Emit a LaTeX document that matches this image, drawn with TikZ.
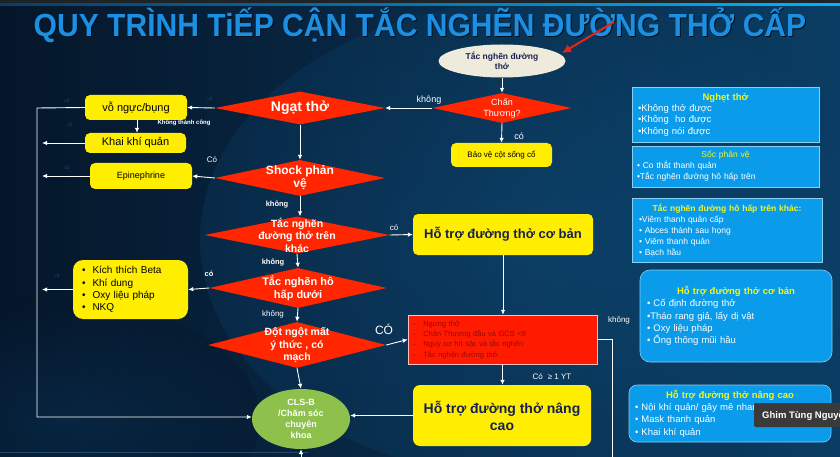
\documentclass[tikz,border=0pt]{standalone}
\usepackage{fontspec}
\setmainfont{Liberation Sans}
\usetikzlibrary{arrows.meta,shapes.geometric,calc}

\definecolor{bgdeep}{HTML}{05162A}
\definecolor{bgmid}{HTML}{0B3D64}
\definecolor{bglight}{HTML}{135C90}
\definecolor{topbar}{HTML}{1E2327}
\definecolor{titleblue}{HTML}{1C8FE3}
\definecolor{titleshade}{HTML}{03101C}
\definecolor{boxyellow}{HTML}{FFEE00}
\definecolor{darknavy}{HTML}{17214F}
\definecolor{flowred}{HTML}{FF2600}
\definecolor{boxred}{HTML}{FF1A00}
\definecolor{redtext}{HTML}{9A0A05}
\definecolor{cream}{HTML}{EFEBDC}
\definecolor{leafgreen}{HTML}{8DC14B}
\definecolor{panelblue}{HTML}{0A9BEB}
\definecolor{panelline}{HTML}{86CFF5}
\definecolor{paneltitle}{HTML}{F5F51E}
\definecolor{arrowred}{HTML}{E8241A}
\definecolor{tipgray}{HTML}{3A3A3A}
\definecolor{faint}{HTML}{23486C}

\newcommand{\titletext}{\scalebox{0.94}[1]{QUY TRÌNH TiẾP CẬN TẮC NGHẼN ĐƯỜNG THỞ CẤP}}

\begin{document}
\begin{tikzpicture}[x=1pt,y=-1pt,
  arr/.style={draw=white, line width=0.9pt, -{Latex[length=5pt,width=4.5pt]}},
  link/.style={draw=white, line width=0.9pt},
  ybox/.style={fill=boxyellow, rounded corners=5pt, inner sep=0pt, align=center, text=black},
  dia/.style={diamond, fill=flowred, draw=none, inner sep=0pt},
  dtext/.style={text=white, font=\bfseries, align=center},
  lab/.style={text=white, font=\fontsize{8}{9}\selectfont, inner sep=0pt},
  labb/.style={text=white, font=\bfseries\fontsize{7.5}{9}\selectfont, inner sep=0pt},
  ghost/.style={text=faint, font=\fontsize{5}{6}\selectfont, inner sep=0pt},
  panel/.style={fill=panelblue, draw=panelline, line width=0.6pt, inner sep=0pt, align=left, text=white},
  titlefont/.style={font=\bfseries\fontsize{32}{33}\selectfont, inner sep=0pt}
]
\useasboundingbox (0,0) rectangle (840,457);

% background
\shade[left color=bgdeep, right color=bgmid] (0,0) rectangle (840,457);
\begin{scope}
  \clip (0,0) rectangle (840,457);
  \shade[inner color=bglight, outer color=bgmid, opacity=0.35] (540,240) ellipse (340pt and 240pt);
  \shade[inner color=bgmid, outer color=bgdeep, opacity=0.35] (60,420) ellipse (200pt and 120pt);
\end{scope}
\fill[topbar] (0,0) rectangle (840,4);
\shade[left color=bgmid, right color=cyan!70!blue] (0,4) rectangle (840,6);
\draw[faint, line width=0.6pt] (0,452) -- (308,452);

% title with a dark halo
\node[titlefont, text=titleshade] (titleshadow) at (421,26.5) {\titletext};
\node[titlefont, text=titleblue] (title) at (420,25) {\titletext};

% flow nodes
\node[ellipse, fill=cream, inner sep=0pt, minimum width=127pt, minimum height=33pt,
  label={[text=darknavy, font=\bfseries\fontsize{8.5}{10}\selectfont, align=center]center:Tắc nghẽn đường\\thở}]
  (start) at (502,61) {};
\node[dia, minimum width=139pt, minimum height=30pt,
  label={[text=white, font=\fontsize{9}{11}\selectfont, align=center]center:Chấn\\Thương?}]
  (chan) at (502,108) {};
\node[ybox, minimum width=101pt, minimum height=24pt, font=\fontsize{8}{9}\selectfont]
  (spine) at (501.5,155) {Bảo vệ cột sống cổ};

\node[dia, minimum width=170pt, minimum height=33pt,
  label={[dtext, font=\bfseries\fontsize{14}{15}\selectfont]center:Ngạt thở}]
  (ngat) at (300,108) {};
\node[ybox, minimum width=102pt, minimum height=25pt, font=\fontsize{11}{12}\selectfont]
  (vo) at (136,107.5) {vỗ ngực/bụng};
\node[ybox, minimum width=101pt, minimum height=20pt, font=\fontsize{11}{12}\selectfont]
  (khai) at (135.5,143) {Khai khí quản};
\node[ybox, minimum width=102pt, minimum height=26pt, font=\fontsize{9}{10}\selectfont]
  (epi) at (141,176) {Epinephrine};
\node[dia, minimum width=170pt, minimum height=36pt,
  label={[dtext, font=\bfseries\fontsize{12}{13}\selectfont]center:Shock phản\\vệ}]
  (shock) at (300,178) {};
\node[dia, minimum width=185pt, minimum height=37pt,
  label={[dtext, font=\bfseries\fontsize{10.5}{12.5}\selectfont]center:Tắc nghẽn\\đường thở trên\\khác}]
  (upper) at (297,235) {};
\node[ybox, minimum width=180pt, minimum height=41pt, text=darknavy, font=\bfseries\fontsize{13}{14}\selectfont]
  (basic) at (503,234.5) {Hỗ trợ đường thở cơ bản};
\node[dia, minimum width=177pt, minimum height=40pt,
  label={[dtext, font=\bfseries\fontsize{11}{13}\selectfont]center:Tắc nghẽn hô\\hấp dưới}]
  (lower) at (298,288) {};
\node[ybox, rounded corners=10pt, minimum width=115pt, minimum height=59pt, align=left,
  font=\fontsize{10}{12.3}\selectfont, text width=97pt]
  (beta) at (130.5,289.5) {\textbullet\hspace{7pt}Kích thích Beta\\\textbullet\hspace{7pt}Khí dung\\\textbullet\hspace{7pt}Oxy liệu pháp\\\textbullet\hspace{7pt}NKQ};
\node[dia, minimum width=178pt, minimum height=46pt,
  label={[dtext, font=\bfseries\fontsize{10.5}{12.3}\selectfont]center:Đột ngột mất\\ý thức , có\\mạch}]
  (sudden) at (297,345) {};
\node[fill=boxred, draw=red!25, line width=0.5pt, minimum width=189pt, minimum height=49pt,
  inner sep=0pt, align=left, text width=178pt, text=redtext, font=\fontsize{7.5}{10.3}\selectfont]
  (risk) at (502.5,339.5) {{\tiny\textbullet}\hspace{8pt}Ngưng thở\\{\tiny\textbullet}\hspace{8pt}Chấn Thương đầu và GCS <9\\{\tiny\textbullet}\hspace{8pt}Nguy cơ hít sặc và tắc nghẽn\\{\tiny\textbullet}\hspace{8pt}Tắc nghẽn đường thở};
\node[ybox, rounded corners=7pt, minimum width=178pt, minimum height=61pt, text=darknavy,
  font=\bfseries\fontsize{14}{17}\selectfont]
  (adv) at (502,415.5) {Hỗ trợ đường thở nâng\\cao};
\node[ellipse, fill=leafgreen, inner sep=0pt, minimum width=98pt, minimum height=60pt,
  label={[text=white, font=\bfseries\fontsize{9}{11}\selectfont, align=center]center:CLS-B\\/Chăm sóc\\chuyên\\khoa}]
  (cls) at (301,419) {};

% free ends of connectors
\coordinate (lx) at (42,0);
\coordinate (lt) at (37,108);
\coordinate (lb) at (37,417);
\coordinate (rk) at (612,339.5);
\coordinate (rb) at (612,457);
\coordinate (cb) at (301,457);
\coordinate (ra) at (614,22);
\coordinate (rt) at (562,53);

% connectors
\draw[arr] (start) -- (chan);
\draw[arr] (chan.west) -- (ngat.east);
\draw[arr] (chan.south) -- (spine.north);
\draw[arr] (ngat.west) -- (vo.east);
\draw[arr] (vo.south -| 137,0) -- (khai.north -| 137,0);
\draw[arr] (vo.west) -- (lt) -- (lb) -- (cls.west |- lb);
\draw[arr] (khai.west) -- (khai.west -| lx);
\draw[arr] (ngat.south) -- (shock.north);
\draw[arr] (shock.west) -- (epi.east);
\draw[arr] (epi.west) -- (epi.west -| lx);
\draw[arr] (shock.south) -- (upper.north -| shock.south);
\draw[arr] (upper.east) -- (basic.west);
\draw[arr] (upper.south) -- (lower.north);
\draw[arr] (lower.west) -- (beta.east);
\draw[arr] (beta.west) -- (beta.west -| lx);
\draw[arr] (lower.south) -- (sudden.north);
\draw[arr] (sudden.east) -- (risk.west);
\draw[arr] (basic.south) -- (risk.north -| basic.south);
\draw[arr] (risk.south) -- (adv.north -| risk.south);
\draw[link] (risk.east) -- (rk) -- (rb);
\draw[arr] (adv.west) -- (adv.west -| cls.east);
\draw[arr] (sudden.south) -- (cls.north);
\draw[arr] (cb) -- (cls.south);
\draw[draw=arrowred, line width=2pt, -{Latex[length=9pt,width=9pt]}] (ra) -- (rt);

% connector labels
\node[lab, font=\fontsize{9}{10}\selectfont] (l1) at (429,100) {không};
\node[lab, font=\fontsize{9}{10}\selectfont] (l2) at (519,136) {có};
\node[labb, font=\bfseries\fontsize{6}{7}\selectfont] (l3) at (184,123) {Không thành công};
\node[lab] (l4) at (212,160) {Có};
\node[labb] (l5) at (277,204) {không};
\node[lab] (l6) at (394,228) {có};
\node[labb] (l7) at (273,262) {không};
\node[labb] (l8) at (209,274) {có};
\node[lab] (l9) at (273,314) {không};
\node[lab, font=\fontsize{12}{13}\selectfont] (l10) at (384,329) {CÓ};
\node[lab, font=\fontsize{8}{9}\selectfont] (l11) at (552,377) {Có\hspace{5pt}≥ 1 YT};
\node[lab] (l12) at (619,320) {không};
\node[ghost] (g1) at (210,99) {có};
\node[ghost] (g2) at (67,101) {có};
\node[ghost] (g3) at (70,125) {có};
\node[ghost] (g4) at (67,168) {có};
\node[ghost] (g5) at (57,276) {có};

% side panels
\node[panel, minimum width=187pt, minimum height=55pt, text width=175pt, font=\fontsize{9.5}{11.3}\selectfont]
  (p1) at (725.5,114.5) {\makebox[175pt]{\textcolor{paneltitle}{\bfseries Nghẹt thở}}\\•Không thở được\\•Không\ \ ho được\\•Không nói được};
\node[panel, minimum width=187pt, minimum height=41pt, text width=177pt, font=\fontsize{8.5}{11}\selectfont]
  (p2) at (725.5,166.5) {\makebox[177pt]{\textcolor{paneltitle}{Sốc phản vệ}}\\• Co thắt thanh quản\\•Tắc nghẽn đường hô hấp trên};
\node[panel, minimum width=190pt, minimum height=64pt, text width=176pt, font=\fontsize{8.5}{11}\selectfont]
  (p3) at (727,230) {\makebox[176pt]{\textcolor{paneltitle}{\bfseries Tắc nghẽn đường hô hấp trên khác:}}\\•Viêm thanh quản cấp\\• Abces thành sau họng\\• Viêm thanh quản\\• Bạch hầu};
\node[panel, rounded corners=10pt, minimum width=192pt, minimum height=92pt, text width=178pt, font=\fontsize{9.5}{12.3}\selectfont]
  (p4) at (736,316) {\makebox[178pt]{\textcolor{paneltitle}{\bfseries Hỗ trợ đường thở cơ bản}}\\• Cố định đường thở\\•Tháo rang giả, lấy dị vật\\• Oxy liệu pháp\\• Ống thông mũi hầu};
\node[panel, rounded corners=8pt, minimum width=202pt, minimum height=57pt, text width=190pt, font=\fontsize{9.5}{12.3}\selectfont]
  (p5) at (730,413.5) {\makebox[190pt]{\textcolor{paneltitle}{\bfseries Hỗ trợ đường thở nâng cao}}\\• Nội khí quản/ gây mê nhanh\\• Mask thanh quản\\• Khai khí quản};

% pinned name tag
\fill[tipgray, rounded corners=2pt] (754,403) rectangle (850,427);
\node[anchor=west, text=white, font=\bfseries\fontsize{9.5}{11}\selectfont, inner sep=0pt]
  (tag) at (762,415) {Ghim Tùng Nguyễn};
\end{tikzpicture}
\end{document}
